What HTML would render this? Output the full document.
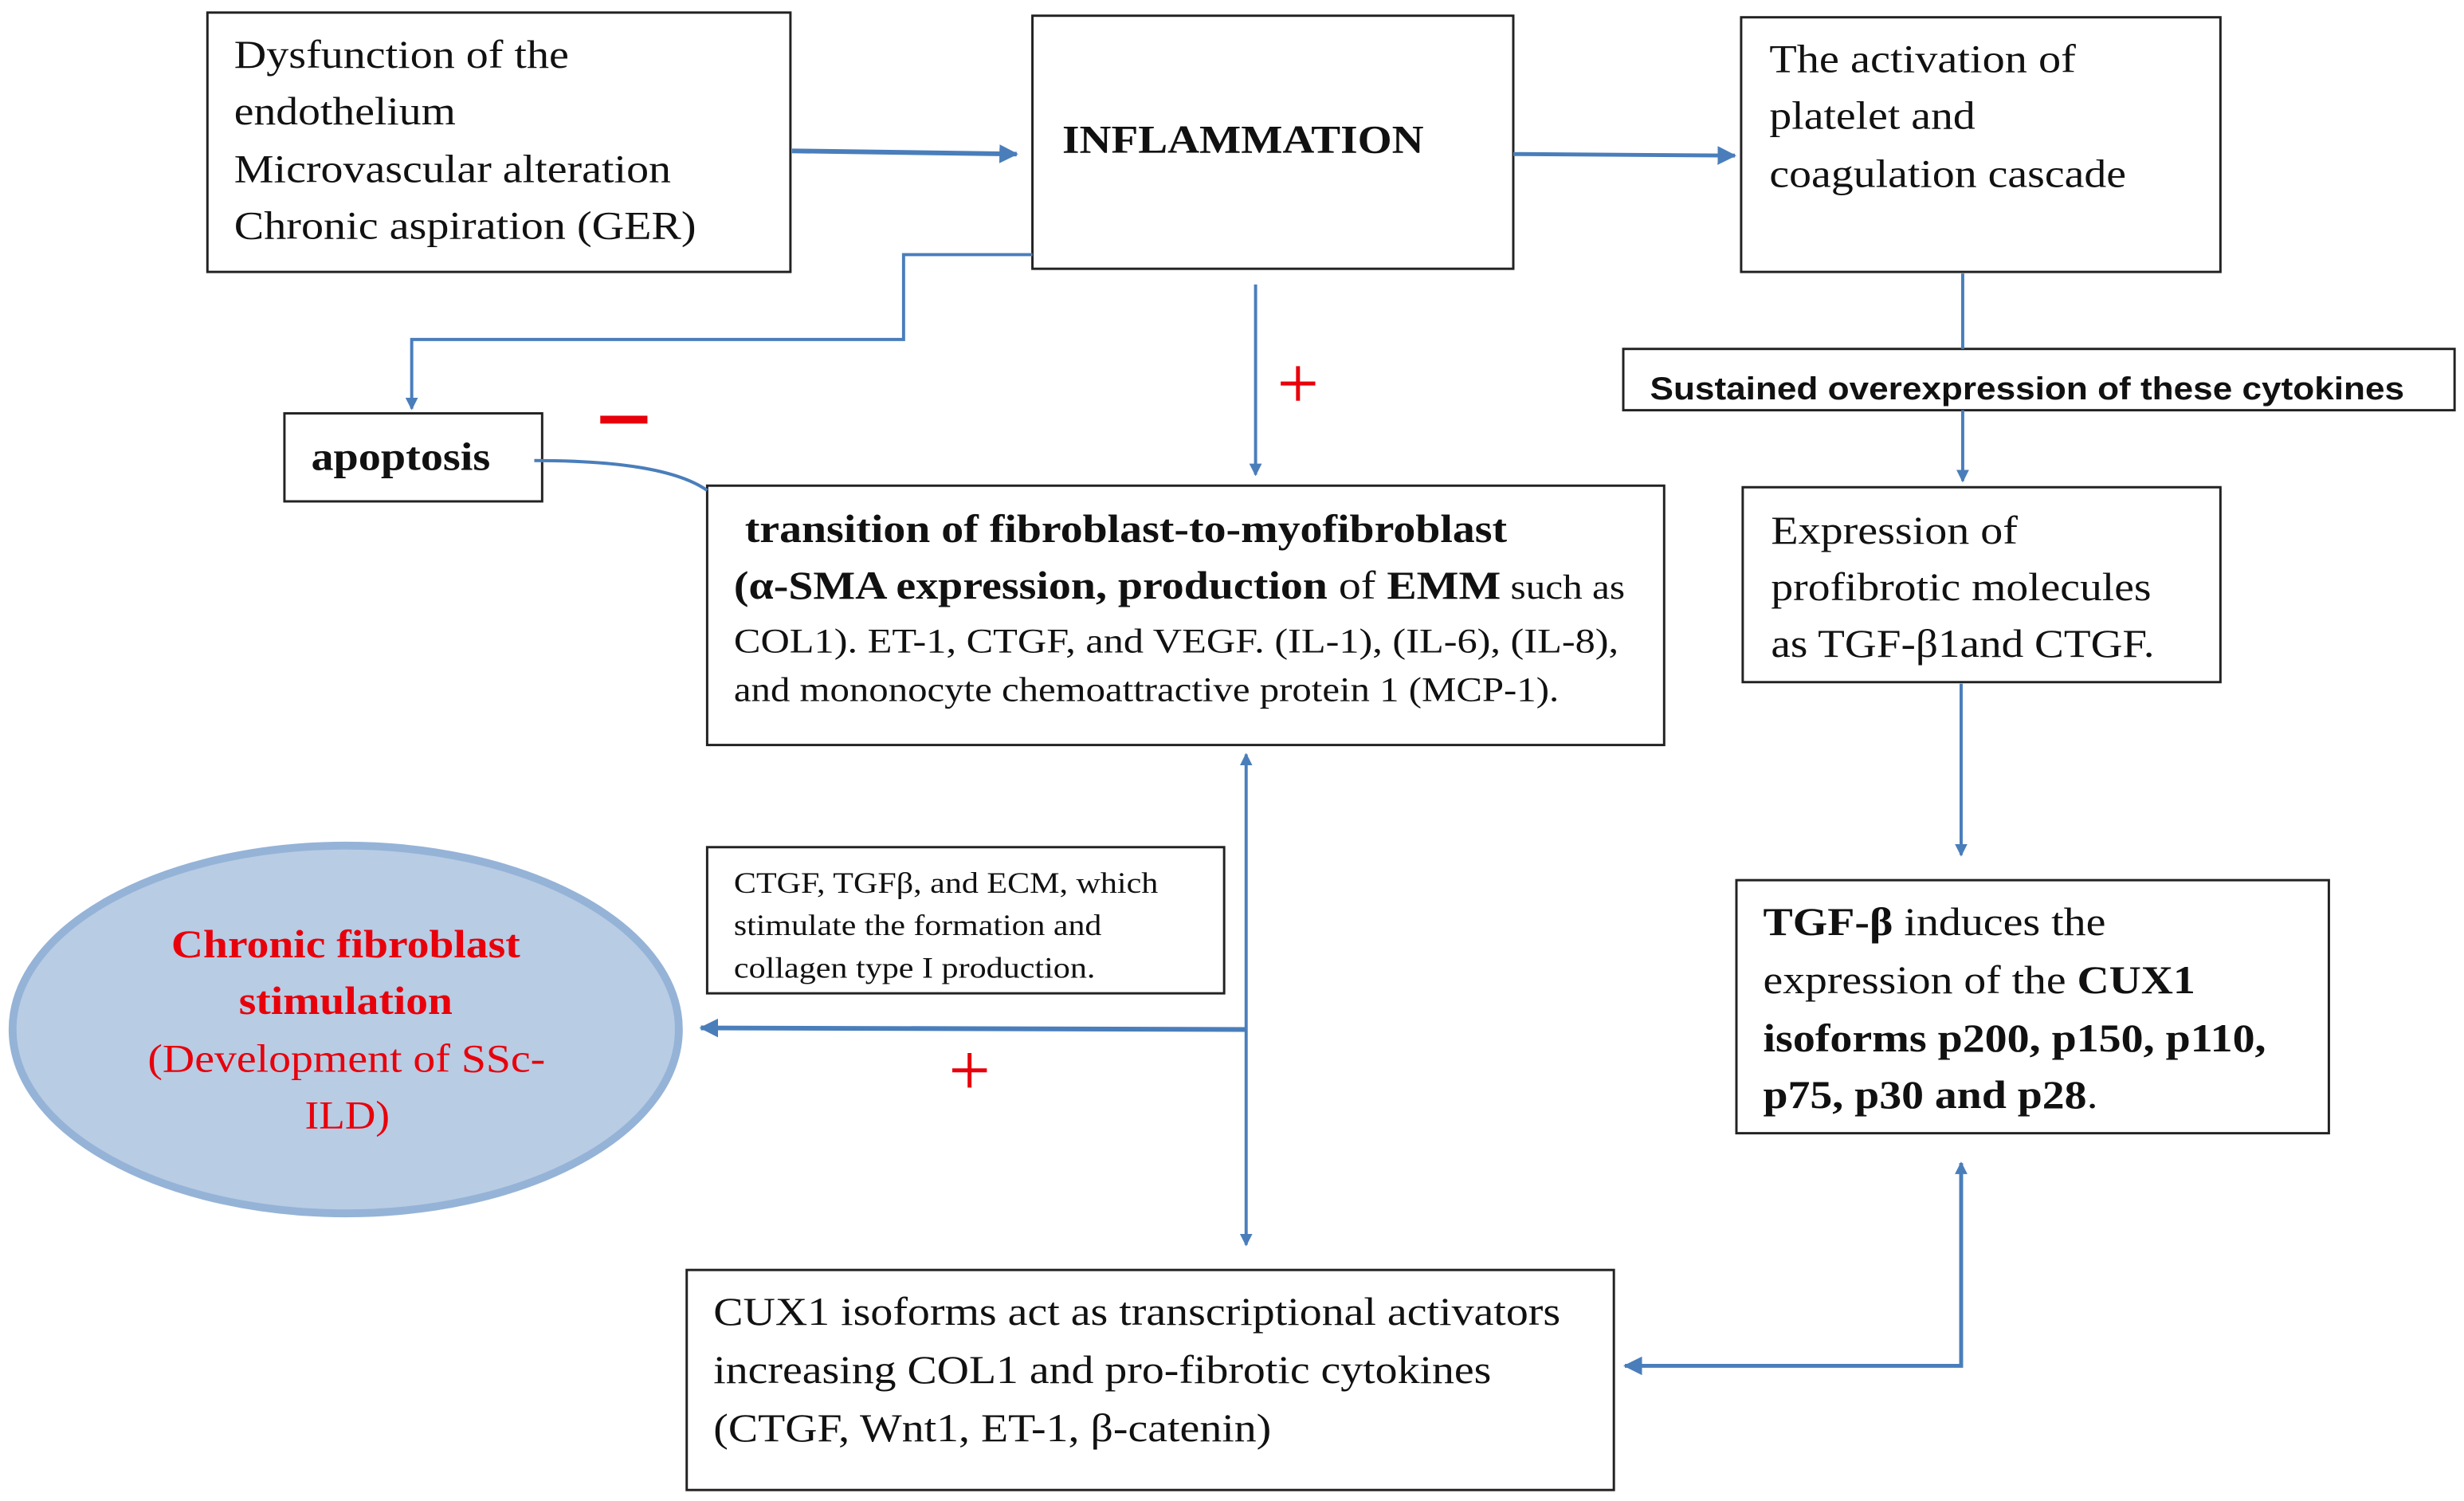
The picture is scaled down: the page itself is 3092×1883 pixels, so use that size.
<!DOCTYPE html>
<html><head><meta charset="utf-8"><style>html,body{margin:0;padding:0;background:#fff}svg{display:block}</style></head>
<body>
<svg width="3092" height="1883" viewBox="0 0 1568 955" preserveAspectRatio="none" xmlns="http://www.w3.org/2000/svg" font-family="'Liberation Serif', serif">
<defs>
<marker id="a" markerWidth="8" markerHeight="8" refX="7" refY="4" orient="auto-start-reverse" markerUnits="userSpaceOnUse"><path d="M0,0 L8,4 L0,8 Z" fill="#4a7ebb"/></marker>
<marker id="b" markerWidth="12" markerHeight="12" refX="11" refY="6" orient="auto-start-reverse" markerUnits="userSpaceOnUse"><path d="M0,0 L12,6 L0,12 Z" fill="#4a7ebb"/></marker>
</defs>
<g fill="#fff" stroke="#222" stroke-width="1.5">
<rect x="132" y="8" width="371" height="165"/>
<rect x="657" y="10" width="306" height="161"/>
<rect x="1108" y="11" width="305" height="162"/>
<rect x="1033" y="222" width="529" height="39"/>
<rect x="181" y="263" width="164" height="56"/>
<rect x="450" y="309" width="609" height="165"/>
<rect x="1109" y="310" width="304" height="124"/>
<rect x="450" y="539" width="329" height="93"/>
<rect x="1105" y="560" width="377" height="161"/>
<rect x="437" y="808" width="590" height="140"/>
</g>
<ellipse cx="220" cy="655" rx="212" ry="117" fill="#b8cce4" stroke="#95b3d7" stroke-width="5"/>
<g stroke="#4a7ebb" fill="none" stroke-width="2">
<path d="M504,96 L647,98" stroke-width="3" marker-end="url(#b)"/>
<path d="M963,98 L1104,99" stroke-width="2.5" marker-end="url(#b)"/>
<path d="M657,162 L575,162 L575,216 L262,216 L262,260" marker-end="url(#a)"/>
<path d="M799,181 L799,302" marker-end="url(#a)"/>
<path d="M1249,174 L1249,222"/>
<path d="M1249,261 L1249,306" marker-end="url(#a)"/>
<path d="M1248,435 L1248,544" marker-end="url(#a)"/>
<path d="M340,293 C390,293 430,298 450,312"/>
<path d="M793,480 L793,792" marker-start="url(#a)" marker-end="url(#a)"/>
<path d="M793,655 L446,654" stroke-width="3" marker-end="url(#b)"/>
<path d="M1248,740 L1248,869 L1034,869" stroke-width="2.5" marker-start="url(#a)" marker-end="url(#b)"/>
</g>
<g font-size="25" fill="#111" lengthAdjust="spacingAndGlyphs">
<text x="149" y="43" textLength="213" lengthAdjust="spacingAndGlyphs">Dysfunction of the</text>
<text x="149" y="79" textLength="141" lengthAdjust="spacingAndGlyphs">endothelium</text>
<text x="149" y="116" textLength="278" lengthAdjust="spacingAndGlyphs">Microvascular alteration</text>
<text x="149" y="152" textLength="294" lengthAdjust="spacingAndGlyphs">Chronic aspiration (GER)</text>
<text x="676" y="97" font-weight="bold" textLength="230" lengthAdjust="spacingAndGlyphs">INFLAMMATION</text>
<text x="1126" y="46" textLength="195" lengthAdjust="spacingAndGlyphs">The activation of</text>
<text x="1126" y="82" textLength="131" lengthAdjust="spacingAndGlyphs">platelet and</text>
<text x="1126" y="119" textLength="227" lengthAdjust="spacingAndGlyphs">coagulation cascade</text>
<text x="198" y="299" font-weight="bold" textLength="114" lengthAdjust="spacingAndGlyphs">apoptosis</text>
<text x="474" y="345" font-weight="bold" textLength="485" lengthAdjust="spacingAndGlyphs">transition of fibroblast-to-myofibroblast</text>
<text x="467" y="381" textLength="567" lengthAdjust="spacingAndGlyphs"><tspan font-weight="bold">(α-SMA expression, production</tspan> of <tspan font-weight="bold">EMM</tspan><tspan font-size="22"> such as</tspan></text>
<text x="467" y="415" font-size="22" textLength="563" lengthAdjust="spacingAndGlyphs">COL1).  ET-1, CTGF, and VEGF. (IL-1), (IL-6), (IL-8),</text>
<text x="467" y="446" font-size="22" textLength="525" lengthAdjust="spacingAndGlyphs">and mononocyte chemoattractive protein 1 (MCP-1).</text>
<text x="1127" y="346" textLength="157" lengthAdjust="spacingAndGlyphs">Expression of</text>
<text x="1127" y="382" textLength="242" lengthAdjust="spacingAndGlyphs">profibrotic molecules</text>
<text x="1127" y="418" textLength="244" lengthAdjust="spacingAndGlyphs">as TGF-β1and CTGF.</text>
<text x="1122" y="595" textLength="218" lengthAdjust="spacingAndGlyphs"><tspan font-weight="bold">TGF-β</tspan> induces the</text>
<text x="1122" y="632" textLength="275" lengthAdjust="spacingAndGlyphs">expression of the <tspan font-weight="bold">CUX1</tspan></text>
<text x="1122" y="669" font-weight="bold" textLength="320" lengthAdjust="spacingAndGlyphs">isoforms p200, p150, p110,</text>
<text x="1122" y="705" textLength="213" lengthAdjust="spacingAndGlyphs"><tspan font-weight="bold">p75, p30 and p28</tspan>.</text>
<text x="454" y="843" textLength="539" lengthAdjust="spacingAndGlyphs">CUX1 isoforms act as transcriptional activators</text>
<text x="454" y="880" textLength="495" lengthAdjust="spacingAndGlyphs">increasing COL1 and pro-fibrotic cytokines</text>
<text x="454" y="917" textLength="355" lengthAdjust="spacingAndGlyphs">(CTGF, Wnt1, ET-1, β-catenin)</text>
</g>
<g font-size="19" fill="#111">
<text x="467" y="568" textLength="270" lengthAdjust="spacingAndGlyphs">CTGF, TGFβ, and ECM, which</text>
<text x="467" y="595" textLength="234" lengthAdjust="spacingAndGlyphs">stimulate the formation and</text>
<text x="467" y="622" textLength="230" lengthAdjust="spacingAndGlyphs">collagen type I production.</text>
</g>
<text x="1050" y="254" font-family="'Liberation Sans', sans-serif" font-size="20" font-weight="bold" fill="#111" textLength="480" lengthAdjust="spacingAndGlyphs">Sustained overexpression of these cytokines</text>
<g fill="#e8000b" font-size="25">
<text x="109" y="609" font-weight="bold" textLength="222" lengthAdjust="spacingAndGlyphs">Chronic fibroblast</text>
<text x="152" y="645" font-weight="bold" textLength="136" lengthAdjust="spacingAndGlyphs">stimulation</text>
<text x="94" y="682" textLength="253" lengthAdjust="spacingAndGlyphs">(Development of SSc-</text>
<text x="194" y="718" textLength="54" lengthAdjust="spacingAndGlyphs">ILD)</text>
</g>
<g stroke="#e8000b" stroke-width="2.5">
<path d="M826,233 L826,255 M815,244 L837,244"/>
<path d="M617,670 L617,692 M606,681 L628,681"/>
<path d="M382,267 L412,267" stroke-width="5"/>
</g>
</svg>
</body></html>
